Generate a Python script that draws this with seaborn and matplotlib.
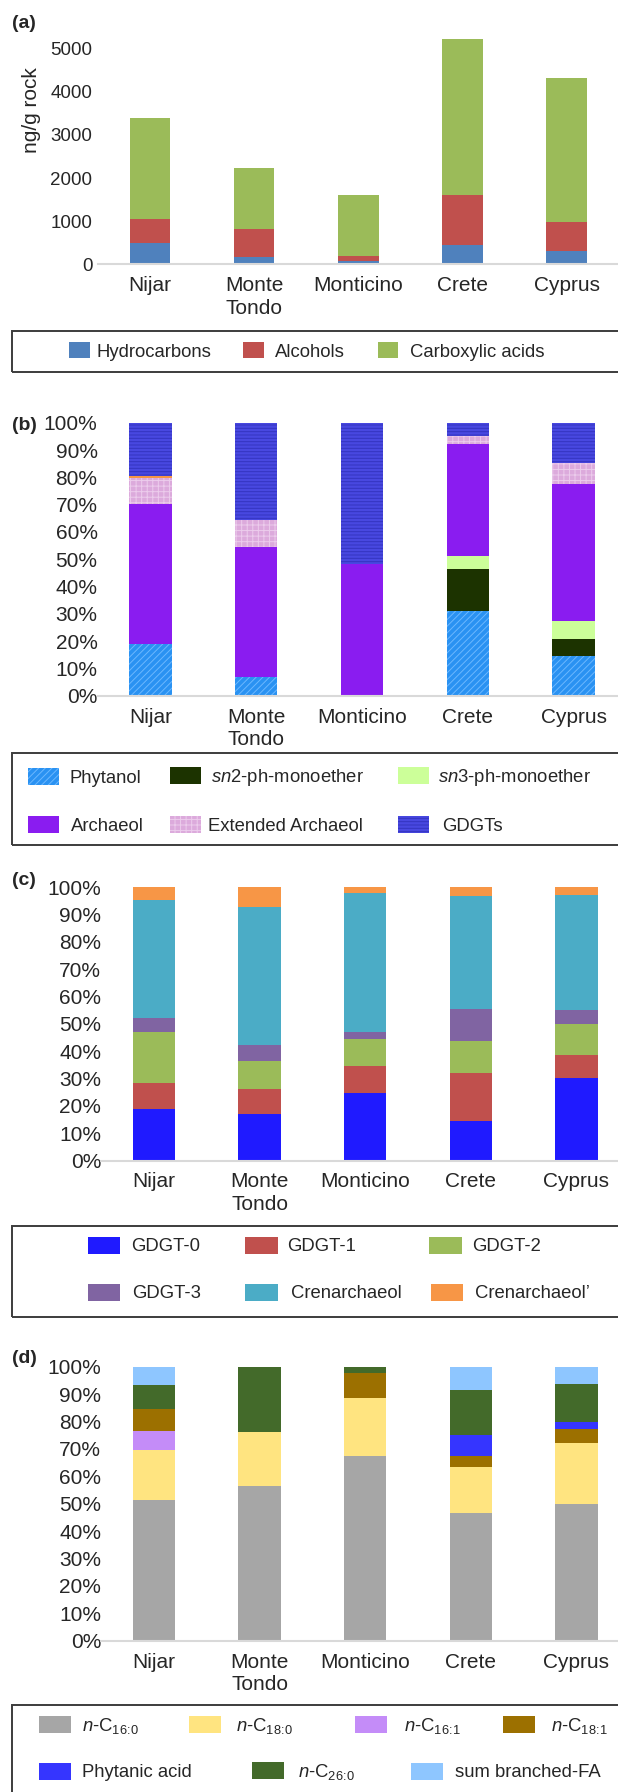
import matplotlib.pyplot as plt
import seaborn as sns
import numpy as np
from matplotlib.patches import Patch, Rectangle

sites = ['Nijar', 'Monte\nTondo', 'Monticino', 'Crete', 'Cyprus']

# (a) concentrations, ng/g rock
hydrocarbons = [505, 165, 75, 450, 305]
alcohols = [540, 655, 130, 1150, 685]
carboxylic_acids = [2335, 1420, 1395, 3610, 3330]

# (b) archaeal lipids, %
phytanol = [18.9, 7.0, 0, 30.9, 14.6]
sn2_monoether = [0, 0, 0, 15.4, 6.2]
sn3_monoether = [0, 0, 0, 5.0, 6.6]
archaeol = [51.3, 47.6, 48.2, 41.0, 50.3]
ext_archaeol = [9.5, 9.7, 0, 2.8, 7.6]
other_b = [0.9, 0, 0, 0, 0]  # small orange sliver on Nijar, not in legend
gdgts = [19.4, 35.7, 51.8, 4.9, 14.7]

# (c) GDGT distribution, %
gdgt0 = [18.8, 17.2, 24.8, 14.3, 30.1]
gdgt1 = [9.4, 8.8, 9.7, 17.8, 8.4]
gdgt2 = [18.9, 10.6, 9.9, 11.7, 11.4]
gdgt3 = [4.9, 5.7, 2.7, 11.7, 5.1]
crenarchaeol = [43.4, 50.5, 50.7, 41.4, 42.3]
crenarchaeol_iso = [4.6, 7.2, 2.2, 3.1, 2.7]

# (d) fatty acids, %
c16_0 = [51.4, 56.4, 67.3, 46.7, 50.0]
c18_0 = [18.2, 19.9, 21.1, 16.6, 22.3]
c16_1 = [6.9, 0, 0, 0, 0]
c18_1 = [7.9, 0, 9.2, 4.1, 4.9]
phytanic_acid = [0, 0, 0, 7.6, 2.7]
c26_0 = [8.9, 23.7, 2.4, 16.5, 13.7]
branched_fa = [6.7, 0, 0, 8.5, 6.4]

W, H, DPI = 618, 1792, 100

sns.set_theme(style='white')
plt.rcParams['font.family'] = ['Liberation Sans', 'DejaVu Sans']
plt.rcParams['mathtext.fontset'] = 'custom'
plt.rcParams['mathtext.rm'] = 'Liberation Sans'
plt.rcParams['mathtext.it'] = 'Liberation Sans:italic'
plt.rcParams['hatch.linewidth'] = 0.7

fig = plt.figure(figsize=(W / DPI, H / DPI), dpi=DPI)


def px_axes(left, right, top, bottom):
    return fig.add_axes([left / W, 1 - bottom / H, (right - left) / W, (bottom - top) / H])


def stacked(ax, parts, colors, width, hatches=None, hatch_colors=None):
    tops = np.cumsum(np.array(parts, dtype=float), axis=0)
    # draw running totals from the top down so each lower segment covers the one above
    for i in range(len(parts) - 1, -1, -1):
        sns.barplot(x=sites, y=tops[i], order=sites, color=colors[i], width=width,
                    saturation=1, errorbar=None, ax=ax)
        for bar in ax.containers[-1]:
            bar.set_linewidth(0)
            if hatches and hatches[i]:
                bar.set_hatch(hatches[i])
                bar.set_edgecolor(hatch_colors[i])


def style(ax, ylim, yticks, ylabels, ysize, ypad):
    ax.set_xlim(-0.5, 4.5)
    ax.set_ylim(*ylim)
    ax.set_yticks(yticks, ylabels)
    sns.despine(ax=ax, left=True)
    ax.spines['bottom'].set_color('#d9d9d9')
    ax.spines['bottom'].set_linewidth(1.5)
    ax.tick_params(axis='both', length=0)
    ax.tick_params(axis='x', labelsize=15, pad=8.5)
    ax.tick_params(axis='y', labelsize=ysize, pad=ypad)
    for t in ax.get_xticklabels():
        t.set_linespacing(1.25)
    ax.set_xlabel('')
    ax.set_ylabel('')


def legend_box(top, bottom):
    fig.add_artist(Rectangle((12.3 / W, 1 - bottom / H), (660 - 12.3) / W, (bottom - top) / H,
                             transform=fig.transFigure, fill=False, lw=1.4,
                             ec='#3c3c3c', clip_on=False))


def legend_entry(handle, label, x, y, w, h, pad, fs=13.3):
    fs_px = fs * DPI / 72
    fig.legend(handles=[handle], labels=[label], loc='center left',
               bbox_to_anchor=(x / W, 1 - y / H), frameon=False, borderpad=0,
               borderaxespad=0, handlelength=w / fs_px, handleheight=h / fs_px,
               handletextpad=pad / fs_px, fontsize=fs)


def panel_label(text, y):
    fig.text(11.7 / W, 1 - y / H, text, fontsize=14, fontweight='bold',
             ha='left', va='center')


def fa_label(chain):
    a, b = chain.split(':')
    return r'$\mathit{n}$-C$_{\mathrm{' + a + r'}\!:\!\mathrm{' + b + '}}$'


pct_ticks = list(range(0, 101, 10))
pct_labels = [f'{v}%' for v in pct_ticks]

# ---------------- (a)
ax_a = px_axes(97.9, 618.8, 26.7, 264.5)
cols_a = ['#4f81bd', '#c0504d', '#9bbb59']
stacked(ax_a, [hydrocarbons, alcohols, carboxylic_acids], cols_a, 0.39)
style(ax_a, (0, 5500), [0, 1000, 2000, 3000, 4000, 5000],
      ['0', '1000', '2000', '3000', '4000', '5000'], 13.5, 4)
ax_a.set_ylabel('ng/g rock', fontsize=15)
ax_a.yaxis.set_label_coords(-0.109, 0.65)
panel_label('(a)', 23)

legend_box(331.5, 372.5)
names_a = ['Hydrocarbons', 'Alcohols', 'Carboxylic acids']
xs_a = [69.3, 243, 377.7]
pads_a = [6.7, 11, 12.3]
for c, n, x, p in zip(cols_a, names_a, xs_a, pads_a):
    legend_entry(Patch(fc=c, lw=0), n, x, 351.5, 20.5, 17, p)

# ---------------- (b)
ax_b = px_axes(97.5, 626.5, 422.7, 695.7)
cols_b = ['#2a92f2', '#1c3300', '#ccff99', '#8a1cf0', '#dcaadc', '#f79646', '#4848e0']
hatch_b = ['/////', None, None, None, '+++', None, '-----']
hcol_b = ['#6cb8ff', None, None, None, '#ecccec', None, '#3434c0']
stacked(ax_b, [phytanol, sn2_monoether, sn3_monoether, archaeol, ext_archaeol, other_b, gdgts],
        cols_b, 0.40, hatch_b, hcol_b)
style(ax_b, (0, 100), pct_ticks, pct_labels, 15, 0)
panel_label('(b)', 425)

legend_box(752.7, 845)
names_b = ['Phytanol', r'$\mathit{sn2}$-ph-monoether', r'$\mathit{sn3}$-ph-monoether',
           'Archaeol', 'Extended Archaeol', 'GDGTs']
idx_b = [0, 1, 2, 3, 4, 6]
xs_b = [27.6, 169.5, 397.7, 27.6, 169.5, 397.7]
ys_b = [777.5, 777.5, 777.5, 825.5, 825.5, 825.5]
pads_b = [10, 10, 8.3, 12, 6.7, 13]
for k, n, x, y, p in zip(idx_b, names_b, xs_b, ys_b, pads_b):
    h = Patch(fc=cols_b[k], lw=0, hatch=hatch_b[k], ec=hcol_b[k] or cols_b[k])
    legend_entry(h, n, x, y, 31.5, 19, p)

# ---------------- (c)
ax_c = px_axes(101.2, 629.2, 887.3, 1160.5)
cols_c = ['#1f1aff', '#c0504d', '#9bbb59', '#8064a2', '#4bacc6', '#f79646']
stacked(ax_c, [gdgt0, gdgt1, gdgt2, gdgt3, crenarchaeol, crenarchaeol_iso], cols_c, 0.40)
style(ax_c, (0, 100), pct_ticks, pct_labels, 15, 0)
panel_label('(c)', 880)

legend_box(1226, 1317.3)
names_c = ['GDGT-0', 'GDGT-1', 'GDGT-2', 'GDGT-3', 'Crenarchaeol', 'Crenarchaeol\u2019']
xs_c = [87.5, 245, 429.3, 87.5, 245, 430.7]
ys_c = [1246, 1246, 1246, 1293, 1293, 1293]
pads_c = [11, 10, 10, 12, 14, 11.7]
for c, n, x, y, p in zip(cols_c, names_c, xs_c, ys_c, pads_c):
    legend_entry(Patch(fc=c, lw=0), n, x, y, 32.5, 19, p)

# ---------------- (d)
ax_d = px_axes(101.2, 629.2, 1366.7, 1640.7)
cols_d = ['#a6a6a6', '#ffe480', '#c48cf8', '#9c7000', '#3535ff', '#436a2a', '#8ec6ff']
stacked(ax_d, [c16_0, c18_0, c16_1, c18_1, phytanic_acid, c26_0, branched_fa], cols_d, 0.40)
style(ax_d, (0, 100), pct_ticks, pct_labels, 15, 0)
panel_label('(d)', 1358)

legend_box(1705, 1798)
names_d = [fa_label('16:0'), fa_label('18:0'), fa_label('16:1'), fa_label('18:1'),
           'Phytanic acid', fa_label('26:0'), 'sum branched-FA']
xs_d = [39.4, 189.2, 355.3, 503.3, 39.4, 251.5, 411]
ys_d = [1726, 1726, 1726, 1726, 1772, 1772, 1772]
pads_d = [10.6, 14.5, 16.3, 16, 11, 14.6, 12.4]
for c, n, x, y, p in zip(cols_d, names_d, xs_d, ys_d, pads_d):
    legend_entry(Patch(fc=c, lw=0), n, x, y, 32, 19, p)

fig.savefig('out.png', dpi=DPI)
